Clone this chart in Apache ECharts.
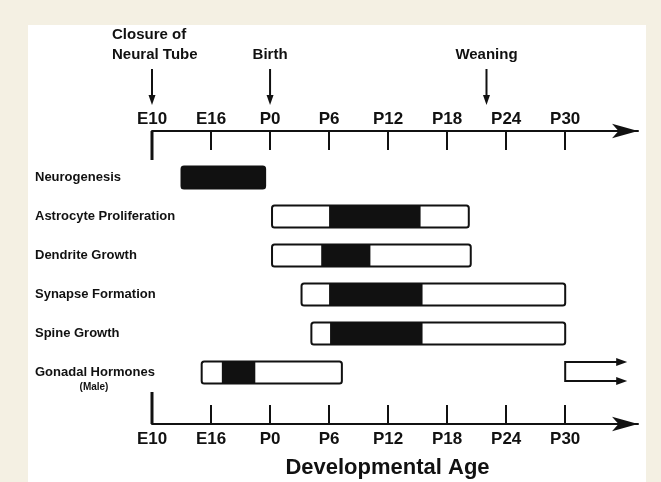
<!DOCTYPE html>
<html>
<head>
<meta charset="utf-8">
<title>Developmental Age</title>
<script src="https://cdn.jsdelivr.net/npm/echarts@6/dist/echarts.min.js"></script>
<style>
  html, body { margin: 0; padding: 0; background: #f4f0e3; }
  #chart { width: 661px; height: 482px; }
</style>
</head>
<body>
<div id="chart"></div>
<script>
// x units: days counted from E10 (E10 = 0, P0 = 12, P30 = 42)
const tickValues = [0, 6, 12, 18, 24, 30, 36, 42]
const tickLabels = ['E10', 'E16', 'P0', 'P6', 'P12', 'P18', 'P24', 'P30']

const rowNames = ['Neurogenesis', 'Astrocyte Proliferation', 'Dendrite Growth', 'Synapse Formation', 'Spine Growth', 'Gonadal Hormones']
const rowNotes = ['', '', '', '', '', '(Male)']

// each period: start, peak start, peak end, end
const periodStart = [3, 12.2, 12.2, 15.2, 16.2, 5.05]
const peakStart = [3, 18, 17.2, 18, 18.1, 7.1]
const peakEnd = [11.5, 27.3, 22.2, 27.5, 27.5, 10.5]
const periodEnd = [11.5, 32.2, 32.4, 42, 42, 19.3]

// gonadal hormones come back at puberty and keep going
const tailRow = [5]
const tailStart = [42]
const tailEnd = [48.3]

const eventNames = ['Closure of\nNeural Tube', 'Birth', 'Weaning']
const eventDays = [0, 12, 34]

const FONT = 'Liberation Sans'
const INK = '#111'
const GRID_LEFT = 152
const GRID_TOP = 158
const ROW_BAND = 39
const TOP_OFFSET = 27
const BOTTOM_OFFSET = 32
const TOP_AXIS_Y = GRID_TOP - TOP_OFFSET
const BOTTOM_AXIS_Y = GRID_TOP + ROW_BAND * rowNames.length + BOTTOM_OFFSET

const barData = rowNames.map((n, i) => [i, periodStart[i], peakStart[i], peakEnd[i], periodEnd[i]])
const tailData = tailRow.map((r, i) => [r, tailStart[i], tailEnd[i]])
const eventData = eventDays.map((d, i) => [d, i])
const noteData = rowNotes.map((t, i) => [0, i]).filter(d => rowNotes[d[1]])

function arrowHead (tipX, tipY, dir, len, half) {
  // dir: 'down' or 'right'
  const pts = dir === 'down'
    ? [[tipX, tipY], [tipX - half, tipY - len], [tipX + half, tipY - len]]
    : [[tipX, tipY], [tipX - len, tipY - half], [tipX - len, tipY + half]]
  return { type: 'polygon', shape: { points: pts }, style: { fill: INK } }
}

const chart = echarts.init(document.getElementById('chart'))

const xCommon = {
  type: 'value',
  min: 0,
  max: 49.4,
  splitLine: { show: false },
  axisLine: {
    show: true,
    symbol: ['none', 'arrow'],
    symbolSize: [11, 26],
    lineStyle: { color: INK, width: 2 }
  },
  axisTick: {
    show: true,
    inside: true,
    length: 19,
    customValues: tickValues,
    lineStyle: { color: INK, width: 2 }
  },
  axisLabel: {
    customValues: tickValues,
    formatter: v => tickLabels[tickValues.indexOf(v)] || '',
    color: INK,
    fontFamily: FONT,
    fontWeight: 'bold',
    fontSize: 17
  }
}

chart.setOption({
  animation: false,
  backgroundColor: '#f4f0e3',
  graphic: [{
    type: 'rect',
    left: 28,
    top: 25,
    shape: { width: 618, height: 470 },
    style: { fill: '#ffffff' },
    z: -10
  }],
  grid: {
    left: GRID_LEFT,
    top: GRID_TOP,
    height: ROW_BAND * rowNames.length,
    right: 23
  },
  xAxis: [
    Object.assign({}, xCommon, {
      position: 'top',
      offset: TOP_OFFSET,
      axisLabel: Object.assign({}, xCommon.axisLabel, { margin: 3 })
    }),
    Object.assign({}, xCommon, {
      position: 'bottom',
      offset: BOTTOM_OFFSET,
      axisLabel: Object.assign({}, xCommon.axisLabel, { margin: 7 }),
      name: 'Developmental Age',
      nameLocation: 'middle',
      nameGap: 33,
      nameTextStyle: { color: INK, fontFamily: FONT, fontWeight: 'bold', fontSize: 22, padding: [0, 15, 0, 0] }
    })
  ],
  yAxis: {
    type: 'category',
    inverse: true,
    data: rowNames,
    axisLine: { show: false },
    axisTick: { show: false },
    splitLine: { show: false },
    axisLabel: {
      align: 'left',
      margin: 117,
      color: INK,
      fontFamily: FONT,
      fontWeight: 'bold',
      fontSize: 13,
      padding: [3, 0, 0, 0]
    }
  },
  series: [
    {
      name: 'periods',
      type: 'custom',
      xAxisIndex: 0,
      clip: false,
      encode: { x: [1, 2, 3, 4], y: 0 },
      data: barData,
      renderItem (params, api) {
        const row = api.value(0)
        const a = api.coord([api.value(1), row])
        const b = api.coord([api.value(2), row])
        const c = api.coord([api.value(3), row])
        const d = api.coord([api.value(4), row])
        const h = api.size([0, 1])[1] * 0.57
        const y = a[1] - h / 2
        const outline = { x: a[0], y: y, width: d[0] - a[0], height: h, r: 2.5 }
        return {
          type: 'group',
          children: [
            { type: 'rect', shape: outline, style: { fill: '#fff' } },
            { type: 'rect', shape: { x: b[0], y: y, width: c[0] - b[0], height: h }, style: { fill: INK } },
            { type: 'rect', shape: outline, style: { fill: 'none', stroke: INK, lineWidth: 2 } }
          ]
        }
      }
    },
    {
      name: 'tail',
      type: 'custom',
      xAxisIndex: 0,
      clip: false,
      encode: { x: [1, 2], y: 0 },
      data: tailData,
      renderItem (params, api) {
        const row = api.value(0)
        const a = api.coord([api.value(1), row])
        const b = api.coord([api.value(2), row])
        const half = 9.5
        const yt = a[1] - half - 1
        const yb = a[1] + half - 1
        const ls = { fill: 'none', stroke: INK, lineWidth: 2 }
        return {
          type: 'group',
          children: [
            { type: 'polyline', shape: { points: [[b[0] - 8, yt], [a[0], yt], [a[0], yb], [b[0] - 8, yb]] }, style: ls },
            arrowHead(b[0], yt, 'right', 11, 4),
            arrowHead(b[0], yb, 'right', 11, 4)
          ]
        }
      }
    },
    {
      name: 'notes',
      type: 'custom',
      xAxisIndex: 0,
      clip: false,
      encode: { y: 1 },
      data: noteData,
      renderItem (params, api) {
        const row = api.value(1)
        const p = api.coord([0, row])
        return {
          type: 'text',
          x: p[0] - 58,
          y: p[1] + 15,
          style: {
            text: rowNotes[row],
            fill: INK,
            font: 'bold 10px "' + FONT + '"',
            align: 'center',
            verticalAlign: 'middle'
          }
        }
      }
    },
    {
      name: 'events',
      type: 'custom',
      xAxisIndex: 0,
      clip: false,
      encode: { x: 0 },
      data: eventData,
      renderItem (params, api) {
        const day = api.value(0)
        const x = api.coord([day, 0])[0]
        const name = eventNames[api.value(1)]
        const atStart = day === 0
        const tipY = TOP_AXIS_Y - 26
        return {
          type: 'group',
          children: [
            {
              type: 'text',
              x: atStart ? x - 40 : x,
              y: 65,
              style: {
                text: name,
                fill: INK,
                font: 'bold 15px "' + FONT + '"',
                align: atStart ? 'left' : 'center',
                verticalAlign: 'bottom',
                lineHeight: 20
              }
            },
            { type: 'line', shape: { x1: x, y1: 69, x2: x, y2: tipY - 6 }, style: { stroke: INK, lineWidth: 2 } },
            arrowHead(x, tipY, 'down', 10, 3.5)
          ]
        }
      }
    },
    {
      name: 'origin',
      type: 'custom',
      xAxisIndex: 0,
      clip: false,
      encode: { x: 0 },
      data: [[tickValues[0]]],
      renderItem (params, api) {
        const x = api.coord([api.value(0), 0])[0]
        const ls = { stroke: INK, lineWidth: 3 }
        return {
          type: 'group',
          children: [
            { type: 'line', shape: { x1: x, y1: TOP_AXIS_Y, x2: x, y2: TOP_AXIS_Y + 29 }, style: ls },
            { type: 'line', shape: { x1: x, y1: BOTTOM_AXIS_Y - 32, x2: x, y2: BOTTOM_AXIS_Y }, style: ls }
          ]
        }
      }
    }
  ]
})
</script>
</body>
</html>
